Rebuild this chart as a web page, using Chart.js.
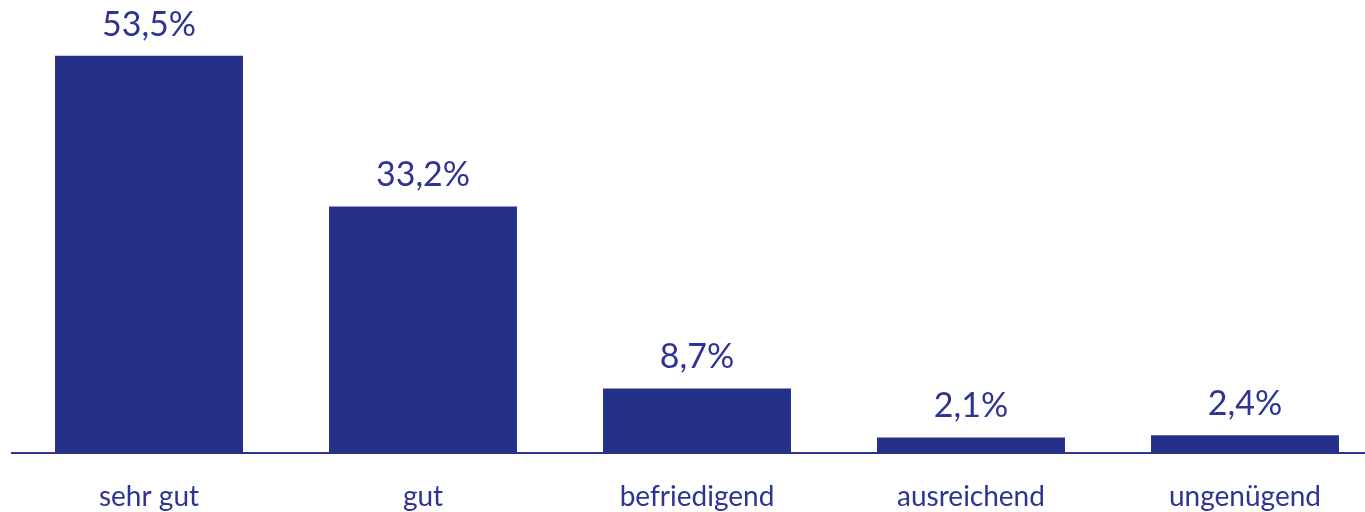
<!DOCTYPE html>
<html>
<head>
<meta charset="utf-8">
<script src="https://cdn.jsdelivr.net/npm/chart.js@4/dist/chart.umd.min.js"></script>
<style>
html,body{margin:0;padding:0;background:#fff;overflow:hidden;width:1365px;height:512px;}
#wrap{position:absolute;left:0;top:0;width:1382px;height:541px;}
</style>
</head>
<body>
<div id="wrap"><canvas id="c" width="1382" height="541"></canvas></div>
<script>
const categories = ["sehr gut", "gut", "befriedigend", "ausreichend", "ungenügend"];
const values = [53.5, 33.2, 8.7, 2.1, 2.4];
const valueLabels = ["53,5%", "33,2%", "8,7%", "2,1%", "2,4%"];

const barColor = "#253189";
const textColor = "#2E3494";
const fontFamily = "Lato, 'Open Sans', sans-serif";

const valueLabelPlugin = {
  id: "valueLabels",
  afterDatasetsDraw(chart) {
    const ctx = chart.ctx;
    const meta = chart.getDatasetMeta(0);
    ctx.save();
    ctx.fillStyle = textColor;
    ctx.font = "34px " + fontFamily;
    ctx.textAlign = "center";
    ctx.textBaseline = "alphabetic";
    meta.data.forEach((bar, i) => {
      ctx.fillText(valueLabels[i], bar.x, bar.y - 20);
    });
    ctx.restore();
  }
};

new Chart(document.getElementById("c"), {
  type: "bar",
  data: {
    labels: categories,
    datasets: [{
      data: values,
      backgroundColor: barColor,
      borderWidth: 0,
      barPercentage: 0.686,
      categoryPercentage: 1.0
    }]
  },
  options: {
    responsive: false,
    animation: false,
    layout: { padding: { left: 12, right: 0, top: 0, bottom: 0 } },
    plugins: { legend: { display: false }, tooltip: { enabled: false } },
    scales: {
      x: {
        grid: { display: false, drawTicks: false },
        border: { display: true, color: "#2E3494", width: 2 },
        ticks: {
          color: textColor,
          font: { family: fontFamily, size: 28, lineHeight: 1 },
          padding: 30,
          maxRotation: 0
        }
      },
      y: {
        display: false,
        min: 0,
        max: 61
      }
    }
  },
  plugins: [valueLabelPlugin]
});
</script>
</body>
</html>
